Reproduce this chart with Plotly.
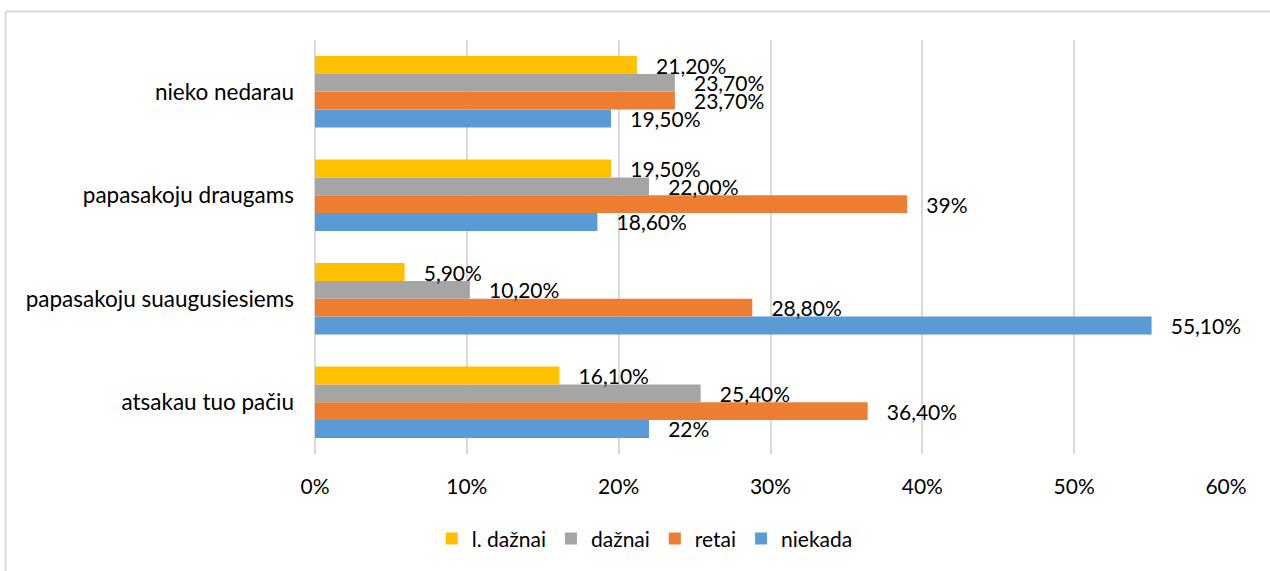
import plotly.graph_objects as go

# kategorijos (nuo apačios į viršų, kaip braižo plotly)
categories = ["atsakau tuo pačiu", "papasakoju suaugusiesiems", "papasakoju draugams", "nieko nedarau"]

series_names = ["niekada", "retai", "dažnai", "l. dažnai"]
niekada = [22.0, 55.1, 18.6, 19.5]
retai = [36.4, 28.8, 39.0, 23.7]
daznai = [25.4, 10.2, 22.0, 23.7]
l_daznai = [16.1, 5.9, 19.5, 21.2]

niekada_lbl = ["22%", "55,10%", "18,60%", "19,50%"]
retai_lbl = ["36,40%", "28,80%", "39%", "23,70%"]
daznai_lbl = ["25,40%", "10,20%", "22,00%", "23,70%"]
l_daznai_lbl = ["16,10%", "5,90%", "19,50%", "21,20%"]

x_ticks = [0, 10, 20, 30, 40, 50, 60]
x_tick_text = ["0%", "10%", "20%", "30%", "40%", "50%", "60%"]

colors = ["#5B9BD5", "#ED7D31", "#A5A5A5", "#FFC000"]
FONT = "Lato"

fig = go.Figure()
for name, vals, lbls, col in zip(series_names,
                                 [niekada, retai, daznai, l_daznai],
                                 [niekada_lbl, retai_lbl, daznai_lbl, l_daznai_lbl],
                                 colors):
    fig.add_trace(go.Bar(
        y=categories, x=vals, name=name, orientation="h",
        marker=dict(color=col, line=dict(width=0)),
        text=lbls, texttemplate="\u00a0\u00a0\u00a0%{text}",
        textposition="outside", constraintext="none", cliponaxis=False,
        textfont=dict(family=FONT, size=21, color="#000000"),
        hoverinfo="skip",
    ))

# rėmelis aplink diagramą (viršus ir kairė matomi)
border = dict(type="line", xref="paper", yref="paper",
              line=dict(color="#D9D9D9", width=2))
fig.add_shape(**border, x0=-0.3397, x1=1.1, y0=1.0687, y1=1.0687)
fig.add_shape(**border, x0=-0.3397, x1=-0.3397, y0=1.0687, y1=-0.4)

fig.update_layout(
    width=1270, height=571,
    margin=dict(l=315, r=44, t=40, b=113),
    paper_bgcolor="white", plot_bgcolor="white",
    barmode="group", bargap=0.311, bargroupgap=0,
    font=dict(family=FONT, size=21, color="#000000"),
    showlegend=True,
    legend=dict(orientation="h", traceorder="reversed",
                x=0.362, xanchor="center", y=-0.205, yanchor="middle",
                font=dict(family=FONT, size=21, color="#000000"),
                itemwidth=30),
    xaxis=dict(range=[0, 60], tickmode="array", tickvals=x_ticks, ticktext=x_tick_text,
               showgrid=True, gridcolor="#D9D9D9", gridwidth=2,
               zeroline=True, zerolinecolor="#D9D9D9", zerolinewidth=2,
               showline=False, ticks="", ticklabelstandoff=18, automargin=False,
               tickfont=dict(size=21), fixedrange=True),
    yaxis=dict(type="category", categoryorder="array", categoryarray=categories,
               range=[-0.5, 3.5], showgrid=False, zeroline=False, showline=False,
               ticks="", ticklabelstandoff=20, automargin=False,
               tickfont=dict(size=22.5), fixedrange=True),
)

fig.write_html("out.html", config={"displayModeBar": False},
               post_script="document.body.style.margin='0';")
